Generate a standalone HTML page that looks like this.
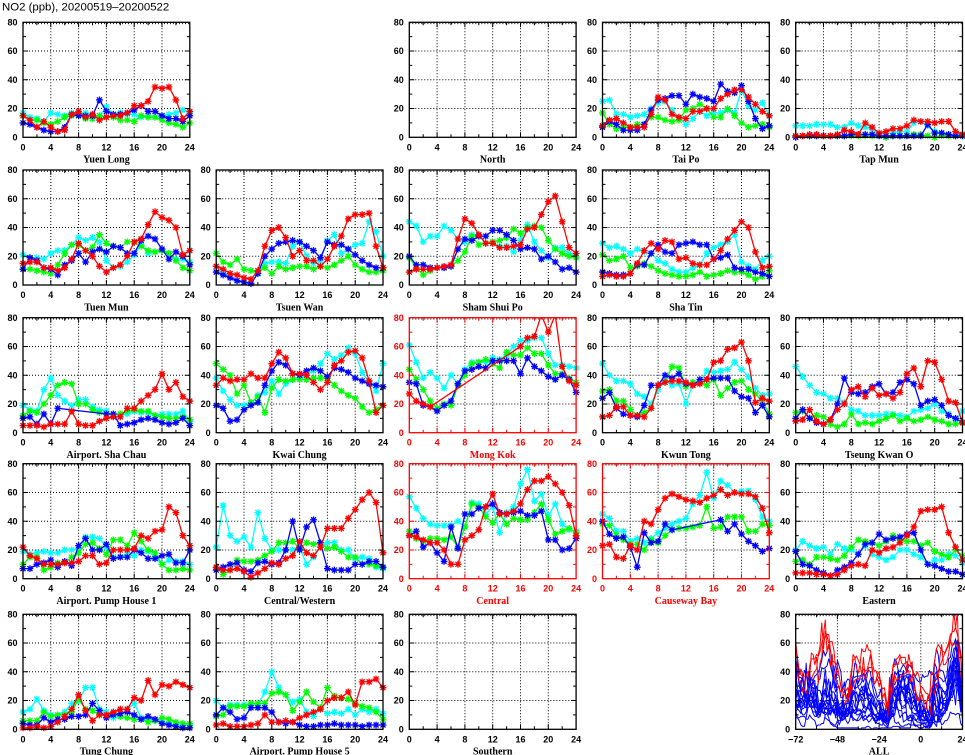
<!DOCTYPE html>
<html><head><meta charset="utf-8">
<style>
html,body{margin:0;padding:0;background:#fff;width:965px;height:755px;overflow:hidden}
svg{display:block}
.y{font-family:"Liberation Sans",sans-serif;font-weight:bold;font-size:9px;text-anchor:end}
.x{font-family:"Liberation Sans",sans-serif;font-weight:bold;font-size:9px;text-anchor:middle}
.n{font-family:"Liberation Serif",serif;font-weight:bold;font-size:10px;text-anchor:middle}
.tt{font-family:"Liberation Sans",sans-serif;font-size:11.4px}
</style></head>
<body>
<svg xmlns="http://www.w3.org/2000/svg" width="965" height="755" viewBox="0 0 965 755">
<rect x="0" y="0" width="965" height="755" fill="#fff"/>
<g id="gfx"></g>
<text class="tt" x="2" y="10.5">NO2 (ppb), 20200519–20200522</text>

<g transform="translate(23,22.3)"><text class="y" x="-5.5" y="3.2">80</text><text class="y" x="-5.5" y="31.9">60</text><text class="y" x="-5.5" y="60.7">40</text><text class="y" x="-5.5" y="89.4">20</text><text class="y" x="-5.5" y="118.2">0</text><text class="x" x="0" y="128">0</text><text class="x" x="27.8" y="128">4</text><text class="x" x="55.6" y="128">8</text><text class="x" x="83.4" y="128">12</text><text class="x" x="111.2" y="128">16</text><text class="x" x="139" y="128">20</text><text class="x" x="166.8" y="128">24</text><text class="n" x="83.4" y="140.3">Yuen Long</text></g>
<g transform="translate(409.3,22.3)"><text class="y" x="-5.5" y="3.2">80</text><text class="y" x="-5.5" y="31.9">60</text><text class="y" x="-5.5" y="60.7">40</text><text class="y" x="-5.5" y="89.4">20</text><text class="y" x="-5.5" y="118.2">0</text><text class="x" x="0" y="128">0</text><text class="x" x="27.8" y="128">4</text><text class="x" x="55.6" y="128">8</text><text class="x" x="83.4" y="128">12</text><text class="x" x="111.2" y="128">16</text><text class="x" x="139" y="128">20</text><text class="x" x="166.8" y="128">24</text><text class="n" x="83.4" y="140.3">North</text></g>
<g transform="translate(602.5,22.3)"><text class="y" x="-5.5" y="3.2">80</text><text class="y" x="-5.5" y="31.9">60</text><text class="y" x="-5.5" y="60.7">40</text><text class="y" x="-5.5" y="89.4">20</text><text class="y" x="-5.5" y="118.2">0</text><text class="x" x="0" y="128">0</text><text class="x" x="27.8" y="128">4</text><text class="x" x="55.6" y="128">8</text><text class="x" x="83.4" y="128">12</text><text class="x" x="111.2" y="128">16</text><text class="x" x="139" y="128">20</text><text class="x" x="166.8" y="128">24</text><text class="n" x="83.4" y="140.3">Tai Po</text></g>
<g transform="translate(795.7,22.3)"><text class="y" x="-5.5" y="3.2">80</text><text class="y" x="-5.5" y="31.9">60</text><text class="y" x="-5.5" y="60.7">40</text><text class="y" x="-5.5" y="89.4">20</text><text class="y" x="-5.5" y="118.2">0</text><text class="x" x="0" y="128">0</text><text class="x" x="27.8" y="128">4</text><text class="x" x="55.6" y="128">8</text><text class="x" x="83.4" y="128">12</text><text class="x" x="111.2" y="128">16</text><text class="x" x="139" y="128">20</text><text class="x" x="166.8" y="128">24</text><text class="n" x="83.4" y="140.3">Tap Mun</text></g>

<g transform="translate(23,170)"><text class="y" x="-5.5" y="3.2">80</text><text class="y" x="-5.5" y="31.9">60</text><text class="y" x="-5.5" y="60.7">40</text><text class="y" x="-5.5" y="89.4">20</text><text class="y" x="-5.5" y="118.2">0</text><text class="x" x="0" y="128">0</text><text class="x" x="27.8" y="128">4</text><text class="x" x="55.6" y="128">8</text><text class="x" x="83.4" y="128">12</text><text class="x" x="111.2" y="128">16</text><text class="x" x="139" y="128">20</text><text class="x" x="166.8" y="128">24</text><text class="n" x="83.4" y="140.3">Tuen Mun</text></g>
<g transform="translate(216.2,170)"><text class="y" x="-5.5" y="3.2">80</text><text class="y" x="-5.5" y="31.9">60</text><text class="y" x="-5.5" y="60.7">40</text><text class="y" x="-5.5" y="89.4">20</text><text class="y" x="-5.5" y="118.2">0</text><text class="x" x="0" y="128">0</text><text class="x" x="27.8" y="128">4</text><text class="x" x="55.6" y="128">8</text><text class="x" x="83.4" y="128">12</text><text class="x" x="111.2" y="128">16</text><text class="x" x="139" y="128">20</text><text class="x" x="166.8" y="128">24</text><text class="n" x="83.4" y="140.3">Tsuen Wan</text></g>
<g transform="translate(409.3,170)"><text class="y" x="-5.5" y="3.2">80</text><text class="y" x="-5.5" y="31.9">60</text><text class="y" x="-5.5" y="60.7">40</text><text class="y" x="-5.5" y="89.4">20</text><text class="y" x="-5.5" y="118.2">0</text><text class="x" x="0" y="128">0</text><text class="x" x="27.8" y="128">4</text><text class="x" x="55.6" y="128">8</text><text class="x" x="83.4" y="128">12</text><text class="x" x="111.2" y="128">16</text><text class="x" x="139" y="128">20</text><text class="x" x="166.8" y="128">24</text><text class="n" x="83.4" y="140.3">Sham Shui Po</text></g>
<g transform="translate(602.5,170)"><text class="y" x="-5.5" y="3.2">80</text><text class="y" x="-5.5" y="31.9">60</text><text class="y" x="-5.5" y="60.7">40</text><text class="y" x="-5.5" y="89.4">20</text><text class="y" x="-5.5" y="118.2">0</text><text class="x" x="0" y="128">0</text><text class="x" x="27.8" y="128">4</text><text class="x" x="55.6" y="128">8</text><text class="x" x="83.4" y="128">12</text><text class="x" x="111.2" y="128">16</text><text class="x" x="139" y="128">20</text><text class="x" x="166.8" y="128">24</text><text class="n" x="83.4" y="140.3">Sha Tin</text></g>

<g transform="translate(23,317.7)"><text class="y" x="-5.5" y="3.2">80</text><text class="y" x="-5.5" y="31.9">60</text><text class="y" x="-5.5" y="60.7">40</text><text class="y" x="-5.5" y="89.4">20</text><text class="y" x="-5.5" y="118.2">0</text><text class="x" x="0" y="128">0</text><text class="x" x="27.8" y="128">4</text><text class="x" x="55.6" y="128">8</text><text class="x" x="83.4" y="128">12</text><text class="x" x="111.2" y="128">16</text><text class="x" x="139" y="128">20</text><text class="x" x="166.8" y="128">24</text><text class="n" x="83.4" y="140.3">Airport. Sha Chau</text></g>
<g transform="translate(216.2,317.7)"><text class="y" x="-5.5" y="3.2">80</text><text class="y" x="-5.5" y="31.9">60</text><text class="y" x="-5.5" y="60.7">40</text><text class="y" x="-5.5" y="89.4">20</text><text class="y" x="-5.5" y="118.2">0</text><text class="x" x="0" y="128">0</text><text class="x" x="27.8" y="128">4</text><text class="x" x="55.6" y="128">8</text><text class="x" x="83.4" y="128">12</text><text class="x" x="111.2" y="128">16</text><text class="x" x="139" y="128">20</text><text class="x" x="166.8" y="128">24</text><text class="n" x="83.4" y="140.3">Kwai Chung</text></g>
<g transform="translate(409.3,317.7)" fill="#ff0000"><text class="y" x="-5.5" y="3.2">80</text><text class="y" x="-5.5" y="31.9">60</text><text class="y" x="-5.5" y="60.7">40</text><text class="y" x="-5.5" y="89.4">20</text><text class="y" x="-5.5" y="118.2">0</text><text class="x" x="0" y="128">0</text><text class="x" x="27.8" y="128">4</text><text class="x" x="55.6" y="128">8</text><text class="x" x="83.4" y="128">12</text><text class="x" x="111.2" y="128">16</text><text class="x" x="139" y="128">20</text><text class="x" x="166.8" y="128">24</text><text class="n" x="83.4" y="140.3">Mong Kok</text></g>
<g transform="translate(602.5,317.7)"><text class="y" x="-5.5" y="3.2">80</text><text class="y" x="-5.5" y="31.9">60</text><text class="y" x="-5.5" y="60.7">40</text><text class="y" x="-5.5" y="89.4">20</text><text class="y" x="-5.5" y="118.2">0</text><text class="x" x="0" y="128">0</text><text class="x" x="27.8" y="128">4</text><text class="x" x="55.6" y="128">8</text><text class="x" x="83.4" y="128">12</text><text class="x" x="111.2" y="128">16</text><text class="x" x="139" y="128">20</text><text class="x" x="166.8" y="128">24</text><text class="n" x="83.4" y="140.3">Kwun Tong</text></g>
<g transform="translate(795.7,317.7)"><text class="y" x="-5.5" y="3.2">80</text><text class="y" x="-5.5" y="31.9">60</text><text class="y" x="-5.5" y="60.7">40</text><text class="y" x="-5.5" y="89.4">20</text><text class="y" x="-5.5" y="118.2">0</text><text class="x" x="0" y="128">0</text><text class="x" x="27.8" y="128">4</text><text class="x" x="55.6" y="128">8</text><text class="x" x="83.4" y="128">12</text><text class="x" x="111.2" y="128">16</text><text class="x" x="139" y="128">20</text><text class="x" x="166.8" y="128">24</text><text class="n" x="83.4" y="140.3">Tseung Kwan O</text></g>

<g transform="translate(23,463.7)"><text class="y" x="-5.5" y="3.2">80</text><text class="y" x="-5.5" y="31.9">60</text><text class="y" x="-5.5" y="60.7">40</text><text class="y" x="-5.5" y="89.4">20</text><text class="y" x="-5.5" y="118.2">0</text><text class="x" x="0" y="128">0</text><text class="x" x="27.8" y="128">4</text><text class="x" x="55.6" y="128">8</text><text class="x" x="83.4" y="128">12</text><text class="x" x="111.2" y="128">16</text><text class="x" x="139" y="128">20</text><text class="x" x="166.8" y="128">24</text><text class="n" x="83.4" y="140.3">Airport. Pump House 1</text></g>
<g transform="translate(216.2,463.7)"><text class="y" x="-5.5" y="3.2">80</text><text class="y" x="-5.5" y="31.9">60</text><text class="y" x="-5.5" y="60.7">40</text><text class="y" x="-5.5" y="89.4">20</text><text class="y" x="-5.5" y="118.2">0</text><text class="x" x="0" y="128">0</text><text class="x" x="27.8" y="128">4</text><text class="x" x="55.6" y="128">8</text><text class="x" x="83.4" y="128">12</text><text class="x" x="111.2" y="128">16</text><text class="x" x="139" y="128">20</text><text class="x" x="166.8" y="128">24</text><text class="n" x="83.4" y="140.3">Central/Western</text></g>
<g transform="translate(409.3,463.7)" fill="#ff0000"><text class="y" x="-5.5" y="3.2">80</text><text class="y" x="-5.5" y="31.9">60</text><text class="y" x="-5.5" y="60.7">40</text><text class="y" x="-5.5" y="89.4">20</text><text class="y" x="-5.5" y="118.2">0</text><text class="x" x="0" y="128">0</text><text class="x" x="27.8" y="128">4</text><text class="x" x="55.6" y="128">8</text><text class="x" x="83.4" y="128">12</text><text class="x" x="111.2" y="128">16</text><text class="x" x="139" y="128">20</text><text class="x" x="166.8" y="128">24</text><text class="n" x="83.4" y="140.3">Central</text></g>
<g transform="translate(602.5,463.7)" fill="#ff0000"><text class="y" x="-5.5" y="3.2">80</text><text class="y" x="-5.5" y="31.9">60</text><text class="y" x="-5.5" y="60.7">40</text><text class="y" x="-5.5" y="89.4">20</text><text class="y" x="-5.5" y="118.2">0</text><text class="x" x="0" y="128">0</text><text class="x" x="27.8" y="128">4</text><text class="x" x="55.6" y="128">8</text><text class="x" x="83.4" y="128">12</text><text class="x" x="111.2" y="128">16</text><text class="x" x="139" y="128">20</text><text class="x" x="166.8" y="128">24</text><text class="n" x="83.4" y="140.3">Causeway Bay</text></g>
<g transform="translate(795.7,463.7)"><text class="y" x="-5.5" y="3.2">80</text><text class="y" x="-5.5" y="31.9">60</text><text class="y" x="-5.5" y="60.7">40</text><text class="y" x="-5.5" y="89.4">20</text><text class="y" x="-5.5" y="118.2">0</text><text class="x" x="0" y="128">0</text><text class="x" x="27.8" y="128">4</text><text class="x" x="55.6" y="128">8</text><text class="x" x="83.4" y="128">12</text><text class="x" x="111.2" y="128">16</text><text class="x" x="139" y="128">20</text><text class="x" x="166.8" y="128">24</text><text class="n" x="83.4" y="140.3">Eastern</text></g>

<g transform="translate(23,614.3)"><text class="y" x="-5.5" y="3.2">80</text><text class="y" x="-5.5" y="31.9">60</text><text class="y" x="-5.5" y="60.7">40</text><text class="y" x="-5.5" y="89.4">20</text><text class="y" x="-5.5" y="118.2">0</text><text class="x" x="0" y="128">0</text><text class="x" x="27.8" y="128">4</text><text class="x" x="55.6" y="128">8</text><text class="x" x="83.4" y="128">12</text><text class="x" x="111.2" y="128">16</text><text class="x" x="139" y="128">20</text><text class="x" x="166.8" y="128">24</text><text class="n" x="83.4" y="140.3">Tung Chung</text></g>
<g transform="translate(216.2,614.3)"><text class="y" x="-5.5" y="3.2">80</text><text class="y" x="-5.5" y="31.9">60</text><text class="y" x="-5.5" y="60.7">40</text><text class="y" x="-5.5" y="89.4">20</text><text class="y" x="-5.5" y="118.2">0</text><text class="x" x="0" y="128">0</text><text class="x" x="27.8" y="128">4</text><text class="x" x="55.6" y="128">8</text><text class="x" x="83.4" y="128">12</text><text class="x" x="111.2" y="128">16</text><text class="x" x="139" y="128">20</text><text class="x" x="166.8" y="128">24</text><text class="n" x="83.4" y="140.3">Airport. Pump House 5</text></g>
<g transform="translate(409.3,614.3)"><text class="y" x="-5.5" y="3.2">80</text><text class="y" x="-5.5" y="31.9">60</text><text class="y" x="-5.5" y="60.7">40</text><text class="y" x="-5.5" y="89.4">20</text><text class="y" x="-5.5" y="118.2">0</text><text class="x" x="0" y="128">0</text><text class="x" x="27.8" y="128">4</text><text class="x" x="55.6" y="128">8</text><text class="x" x="83.4" y="128">12</text><text class="x" x="111.2" y="128">16</text><text class="x" x="139" y="128">20</text><text class="x" x="166.8" y="128">24</text><text class="n" x="83.4" y="140.3">Southern</text></g>
<g transform="translate(795.7,614.3)"><text class="y" x="-5.5" y="3.2">80</text><text class="y" x="-5.5" y="31.9">60</text><text class="y" x="-5.5" y="60.7">40</text><text class="y" x="-5.5" y="89.4">20</text><text class="y" x="-5.5" y="118.2">0</text><text class="x" x="0" y="128">−72</text><text class="x" x="41.7" y="128">−48</text><text class="x" x="83.4" y="128">−24</text><text class="x" x="125.1" y="128">0</text><text class="x" x="166.8" y="128">24</text><text class="n" x="83.4" y="140.3">ALL</text></g>
</svg>

<script>
(function(){
var NS="http://www.w3.org/2000/svg";
var G=document.getElementById('gfx');
function el(t,a,p){var e=document.createElementNS(NS,t);for(var k in a)e.setAttribute(k,a[k]);(p||G).appendChild(e);return e;}
function A(s){return s.trim().split(/\s+/).map(function(v){return v==='_'?null:+v;});}
function S(c,g,b,r){return {c:A(c),g:A(g),b:A(b),r:A(r)};}
var D={
YL:S("17 14 13 11 17 16 15 17 17 17 15 15 21 16 17 16 16 14 15 14 15 16 17 19 17","15 12 12 10 9 11 14 15 16 13 13 15 14 14 12 12 11 15 14 14 12 10 9 7 10","10 9 7 5 4 4 7 16 15 15 15 26 18 16 16 17 19 22 18 18 15 13 13 11 15","15 12 7 11 7 4 5 16 18 14 16 12 14 15 15 17 22 22 25 35 34 35 26 13 18"),
TP:S("25 26 16 16 14 15 16 20 24 25 19 14 9 13 18 15 17 17 19 17 33 22 19 24 15","17 9 6 7 7 9 9 14 14 12 11 12 19 20 23 20 14 14 20 15 10 7 8 9 7","7 11 9 5 5 5 9 19 26 27 29 29 23 30 28 27 25 37 32 31 36 25 13 6 8","8 12 13 10 7 7 7 16 28 26 16 14 13 18 18 20 20 27 30 33 33 28 23 18 15"),
TM:S("8 8 8 9 9 9 7 7 10 8 7 6 2 3 3 4 4 10 11 8 4 3 2 2 2","1 1 1 1 1 1 1 1 1 1 1 1 1 0 1 1 1 2 2 1 0 1 1 1 1","0 1 1 1 1 1 1 1 2 2 2 2 1 1 1 1 1 1 1 9 3 3 2 1 1","1 1 2 2 1 1 2 5 4 2 10 7 3 4 6 6 8 12 11 11 10 11 11 4 2"),
TMn:S("21 19 19 18 22 24 24 28 33 31 33 30 17 12 13 16 21 28 22 23 24 22 18 18 16","11 11 10 9 8 14 22 28 28 24 26 35 29 27 26 30 30 27 24 23 24 22 17 12 10","11 19 17 12 11 7 14 17 22 16 23 25 23 27 26 22 22 31 34 32 25 18 23 20 14","15 16 16 12 12 10 12 18 29 24 20 13 9 12 14 20 30 32 42 51 47 45 40 21 24"),
TW:S("13 8 6 3 2 2 8 15 16 16 15 27 30 20 15 17 31 35 22 25 28 29 44 37 20","22 16 14 18 11 10 9 12 8 13 11 12 13 13 11 13 12 14 17 20 14 11 9 9 10","9 7 5 3 2 1 8 20 25 29 30 31 30 27 24 19 30 28 28 25 21 17 14 12 12","13 11 8 7 5 4 10 27 38 40 33 20 24 17 17 13 18 27 34 46 49 49 50 27 12"),
SSP:S("44 41 30 34 34 41 38 32 30 35 34 29 29 27 27 23 31 42 30 24 19 26 26 22 20","19 12 7 10 12 12 13 17 23 34 28 29 30 31 33 39 36 40 41 40 31 25 22 20 19","20 14 14 12 12 12 13 25 32 31 34 34 38 38 35 31 25 26 25 18 20 16 11 12 9","9 11 11 11 12 13 14 32 46 43 35 29 29 26 26 27 28 39 40 49 58 62 44 26 22"),
ST:S("29 26 27 25 22 25 23 22 17 15 11 9 9 12 14 22 26 28 30 35 16 13 11 17 20","21 17 18 20 12 13 15 13 10 8 7 6 6 7 9 6 7 8 10 9 9 7 4 6 10","9 8 7 7 8 14 14 22 28 23 22 28 29 30 28 28 18 19 21 12 11 11 9 8 6","6 7 6 6 8 15 24 29 25 31 30 18 19 15 14 14 18 24 32 38 44 40 23 12 13"),
ASC:S("19 16 15 30 38 26 22 19 23 23 18 16 15 11 12 13 15 14 14 12 13 13 13 15 8","12 15 14 20 26 33 35 34 20 20 16 14 13 13 13 15 16 15 15 12 11 10 10 11 9","10 11 6 13 6 17 _ _ _ _ _ _ 13 13 5 6 7 9 10 9 7 6 7 10 5","5 5 5 4 6 6 6 15 6 5 5 8 10 11 11 17 17 22 26 30 41 30 35 25 22"),
KC:S("38 29 23 19 19 20 26 28 36 27 34 37 38 40 43 48 55 51 54 59 55 42 35 29 48","48 44 40 27 33 21 25 14 31 37 36 37 37 37 38 38 38 33 29 26 24 18 14 16 19","19 17 8 9 16 19 21 33 43 49 47 41 40 43 45 43 39 45 44 42 38 36 34 33 32","33 38 36 37 37 41 38 38 48 56 52 41 41 40 35 30 35 47 50 56 57 52 36 14 19"),
MK:S("61 49 38 42 38 31 40 34 44 49 49 49 52 51 54 60 64 64 66 66 55 47 47 46 45","44 37 30 22 17 20 19 33 40 48 49 51 48 45 56 54 54 59 55 55 47 41 41 38 35","35 34 19 18 15 19 22 34 43 44 46 45 50 50 50 50 41 52 46 43 39 37 40 37 28","27 22 20 18 _ _ _ _ _ _ _ _ _ _ _ _ 60 66 67 82 70 82 46 36 33"),
KT:S("48 40 36 36 34 27 25 20 30 36 33 34 20 34 35 43 42 43 44 49 44 39 31 26 27","29 30 22 22 16 12 14 17 33 35 46 45 32 35 35 33 37 26 31 35 36 30 27 22 13","24 28 17 13 12 11 19 33 33 40 38 41 34 33 37 37 38 38 38 29 25 24 14 19 11","11 12 18 18 12 12 11 17 33 35 36 36 35 33 34 37 49 50 58 59 63 50 21 24 22"),
TKO:S("46 39 33 28 27 24 24 21 16 15 12 12 12 13 13 12 11 15 16 17 20 15 13 9 15","14 15 10 12 11 6 4 6 13 6 7 6 8 10 12 8 10 8 9 11 9 8 6 6 7","10 16 10 7 6 9 20 38 28 27 28 32 34 27 28 35 37 34 19 22 23 19 12 10 7","8 9 16 8 6 9 16 20 30 32 25 31 26 27 24 28 41 45 32 50 49 37 22 21 7"),
AP1:S("19 17 18 19 18 18 20 20 21 29 29 28 22 15 15 17 16 20 19 15 10 13 12 12 10","10 15 15 6 8 11 11 15 18 24 25 21 17 27 27 23 32 26 20 18 10 6 6 7 6","7 7 10 11 13 8 12 9 23 28 20 20 24 14 15 15 20 18 14 14 16 17 11 11 20","22 16 14 10 10 10 11 11 12 16 16 10 11 20 20 20 21 30 28 33 34 50 46 30 23"),
CW:S("22 51 30 26 29 22 46 28 20 20 20 20 22 10 15 22 25 25 20 20 14 15 14 8 7","8 3 6 13 12 12 13 16 19 25 25 26 21 25 24 25 21 22 19 15 15 10 10 9 8","6 8 10 11 6 5 11 12 10 11 20 40 20 36 41 25 7 6 6 6 10 10 12 12 8","8 6 6 7 5 1 4 7 11 10 14 16 26 18 16 22 35 35 35 42 48 55 60 53 18"),
CE:S("57 49 42 38 37 37 37 40 36 53 52 45 50 32 46 50 66 76 54 59 44 52 38 34 33","33 28 26 28 28 27 29 22 36 52 50 43 39 45 38 42 41 41 46 52 41 31 33 35 32","30 33 22 25 18 12 36 21 45 45 49 50 52 46 45 46 47 44 44 47 27 27 20 21 28","30 29 27 25 25 20 10 10 27 30 34 50 59 45 45 47 52 62 68 68 71 66 60 51 30"),
CB:S("45 42 33 33 26 28 25 28 32 35 38 40 42 52 58 74 56 68 65 60 61 61 55 43 40","38 37 30 27 24 24 20 27 25 30 34 35 35 36 37 50 35 36 43 43 43 33 33 38 37","40 31 28 29 22 8 32 25 26 38 34 _ _ _ _ _ _ 41 33 38 31 26 23 19 21","23 24 15 14 23 20 40 38 48 56 59 57 55 54 53 56 58 62 58 60 59 59 57 49 32"),
EA:S("20 26 23 21 22 17 24 21 20 17 23 17 15 13 15 20 20 17 15 10 13 13 17 16 11","12 13 10 15 15 14 13 16 22 27 26 25 23 26 30 27 26 26 23 25 19 17 15 20 16","19 10 9 6 4 2 6 8 11 17 24 25 31 27 28 29 31 32 20 10 9 7 5 5 3","4 4 4 3 3 2 3 6 9 10 9 20 18 21 22 25 30 36 47 48 48 50 32 22 13"),
TC:S("12 14 21 13 10 10 12 18 20 29 29 14 12 8 9 14 18 8 7 6 5 4 3 3 3","6 6 6 12 9 10 10 12 21 14 13 10 10 11 9 8 7 7 5 6 8 7 5 4 4","4 3 3 8 5 7 7 9 9 10 18 13 8 10 11 12 10 7 9 7 4 3 2 1 1","1 1 2 1 2 5 9 14 24 13 6 10 10 12 14 14 22 20 34 24 31 30 33 31 29"),
AP5:S("20 15 17 17 17 17 17 26 40 29 24 19 21 12 9 14 11 12 11 14 10 14 12 14 11","9 10 16 16 16 18 18 18 25 26 24 13 19 26 19 15 29 23 22 21 18 16 15 12 7","10 15 12 7 8 15 15 15 12 5 4 5 3 2 2 3 3 4 3 3 3 2 3 3 3","3 4 2 2 2 3 4 10 5 5 6 5 8 10 12 14 20 22 22 26 17 33 33 35 29")
};
var CX=[23,216.2,409.3,602.5,795.7],RY=[22.3,170,317.7,463.7,614.3],W=166.8,H=115;
var COL=['#00ffff','#00ff00','#0000ff','#ff0000'];
var cid=0;
function series(arr,col,sx,sy,g){
  var pts=[];
  arr.forEach(function(v,i){if(v!==null)pts.push([sx(i),sy(v)]);});
  el('polyline',{points:pts.map(function(p){return p[0].toFixed(2)+','+p[1].toFixed(2);}).join(' '),fill:'none',stroke:col,'stroke-width':1.3,'stroke-linejoin':'round'},g);
  var d='',s=3.4,q=2.5;
  pts.forEach(function(p){var x=p[0],y=p[1];
    d+='M'+(x-s).toFixed(2)+' '+y.toFixed(2)+'h'+(2*s)+'M'+x.toFixed(2)+' '+(y-s).toFixed(2)+'v'+(2*s)+
       'M'+(x-q).toFixed(2)+' '+(y-q).toFixed(2)+'l'+(2*q)+' '+(2*q)+'M'+(x-q).toFixed(2)+' '+(y+q).toFixed(2)+'l'+(2*q)+' '+(-2*q);});
  el('path',{d:d,stroke:col,'stroke-width':1.3,fill:'none'},g);
}
function panel(r,c,key,red){
  var x0=CX[c],y0=RY[r],x1=x0+W,y1=y0+H;
  var all=(key==='ALL');
  var xmin=all?-72:0,xmax=24,maj=all?24:4,mnr=all?12:2;
  var sx=function(v){return x0+(v-xmin)/(xmax-xmin)*W;};
  var sy=function(v){return y1-v/80*H;};
  var fc=red?'#ff0000':'#000000';
  var d='',v,x,y;
  for(v=xmin+maj;v<xmax-0.01;v+=maj){x=sx(v).toFixed(2);d+='M'+x+' '+y0+'V'+y1;}
  [20,40,60].forEach(function(v){var y=sy(v).toFixed(2);d+='M'+x0+' '+y+'H'+x1;});
  d+='M'+x0+' '+(y0+1.3)+'H'+x1;
  el('path',{d:d,stroke:'#000','stroke-width':1,'stroke-dasharray':'1 2',fill:'none'});
  var id='cp'+(cid++);
  var cp=el('clipPath',{id:id});
  if(all) el('rect',{x:x0,y:y0,width:W,height:H},cp);
  else el('rect',{x:x0-5,y:y0,width:W+10,height:H+5},cp);
  var g=el('g',{'clip-path':'url(#'+id+')'});
  if(all){
    var order=['YL','TP','TM','TMn','TW','SSP','ST','ASC','KC','MK','KT','TKO','AP1','CW','CE','CB','EA','TC','AP5'];
    var rs={MK:1,CE:1,CB:1};
    order.forEach(function(k){
      var s=D[k];
      var arr=[].concat(s.c.slice(0,24),s.g.slice(0,24),s.b.slice(0,24),s.r);
      var pts=[];
      arr.forEach(function(v,i){if(v!==null)pts.push(sx(i-72).toFixed(2)+','+sy(v).toFixed(2));});
      el('polyline',{points:pts.join(' '),fill:'none',stroke:rs[k]?'#ff0000':'#0000ff','stroke-width':1,'stroke-linejoin':'round'},g);
    });
  } else if(key){
    var s=D[key];
    ['c','g','b','r'].forEach(function(k,i){series(s[k],COL[i],sx,sy,g);});
  }
  var t='';
  [20,40,60].forEach(function(v){var y=sy(v).toFixed(2);t+='M'+x0+' '+y+'h5M'+x1+' '+y+'h-5';});
  [10,30,50,70].forEach(function(v){var y=sy(v).toFixed(2);t+='M'+x0+' '+y+'h3M'+x1+' '+y+'h-3';});
  for(v=xmin+maj;v<xmax-0.01;v+=maj){x=sx(v).toFixed(2);t+='M'+x+' '+y1+'v-5M'+x+' '+y0+'v5';}
  for(v=xmin+mnr;v<xmax-0.01;v+=maj){x=sx(v).toFixed(2);t+='M'+x+' '+y1+'v-3M'+x+' '+y0+'v3';}
  el('path',{d:t,stroke:fc,'stroke-width':1,fill:'none'});
  el('rect',{x:x0,y:y0,width:W,height:H,fill:'none',stroke:fc,'stroke-width':1.3});
}
var P=[[0,0,'YL'],[0,2,null],[0,3,'TP'],[0,4,'TM'],
[1,0,'TMn'],[1,1,'TW'],[1,2,'SSP'],[1,3,'ST'],
[2,0,'ASC'],[2,1,'KC'],[2,2,'MK',1],[2,3,'KT'],[2,4,'TKO'],
[3,0,'AP1'],[3,1,'CW'],[3,2,'CE',1],[3,3,'CB',1],[3,4,'EA'],
[4,0,'TC'],[4,1,'AP5'],[4,2,null],[4,4,'ALL']];
P.forEach(function(p){panel(p[0],p[1],p[2],p[3]);});
})();
</script>
</body></html>
